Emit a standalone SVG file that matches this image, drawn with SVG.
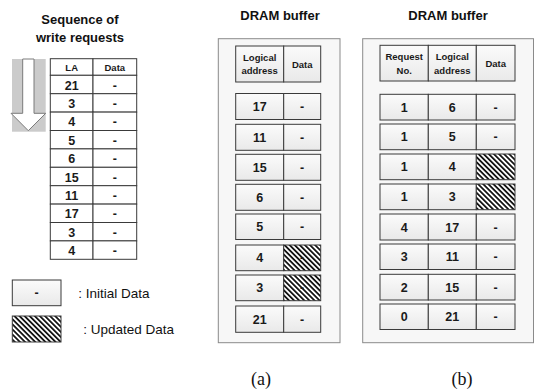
<svg xmlns="http://www.w3.org/2000/svg" width="536" height="391" viewBox="0 0 536 391">
<defs>
<linearGradient id="cellGrad" x1="0" y1="0" x2="0" y2="1">
<stop offset="0" stop-color="#fbfbfb"/>
<stop offset="1" stop-color="#e9e9e9"/>
</linearGradient>
<pattern id="hatch" patternUnits="userSpaceOnUse" width="3.6" height="3.6" patternTransform="rotate(45)">
<rect width="3.6" height="3.6" fill="#ffffff"/>
<rect width="3.6" height="1.8" fill="#151515"/>
</pattern>
<style>
.cell{fill:url(#cellGrad);stroke:#3a3a3a;stroke-width:1}
.plain{fill:#ffffff;stroke:#3a3a3a;stroke-width:1}
.hatch{fill:url(#hatch);stroke:#3a3a3a;stroke-width:1}
.panel{fill:#f7f7f7;stroke:#8a8a8a;stroke-width:1}
.num{font-family:"Liberation Sans",Arial,sans-serif;font-weight:bold;font-size:12.5px;text-anchor:middle;fill:#1a1a1a}
.hdr{font-family:"Liberation Sans",Arial,sans-serif;font-weight:bold;font-size:9.5px;text-anchor:middle;fill:#1a1a1a}
.title{font-family:"Liberation Sans",Arial,sans-serif;font-weight:bold;font-size:13px;text-anchor:middle;fill:#111}
.legend{font-family:"Liberation Sans",Arial,sans-serif;font-size:13.5px;fill:#111}
.cap{font-family:"Liberation Serif","Times New Roman",serif;font-size:18px;text-anchor:middle;fill:#111}
</style>
</defs>
<rect width="536" height="391" fill="#ffffff"/>

<!-- Titles -->
<g id="titles">
<text class="title" x="80" y="23.5">Sequence of</text>
<text class="title" x="80" y="41.5">write requests</text>
<text class="title" x="280" y="19.5">DRAM buffer</text>
<text class="title" x="448" y="19.5">DRAM buffer</text>
</g>

<!-- Sequence arrow -->
<g id="seq-arrow">
<rect x="12" y="59" width="33.7" height="72.7" fill="#cbcbcb"/>
<path d="M22.7,59 L34,59 L34,113.3 L45.7,113.3 L28.3,130.7 L11,113.3 L22.7,113.3 Z" fill="#ffffff" stroke="#7a7a7a" stroke-width="1"/>
</g>

<!-- Left table: sequence of write requests -->
<g id="seq-header">
<rect class="plain" x="50.3" y="58.7" width="42.7" height="16.6"/>
<rect class="plain" x="93" y="58.7" width="43.7" height="16.6"/>
<text class="hdr" x="71.7" y="71">LA</text>
<text class="hdr" x="114.8" y="71">Data</text>
</g>
<g id="seq-rows">
<g id="seq-1"><rect class="plain" x="50.3" y="75.3" width="42.7" height="18.4"/><rect class="plain" x="93" y="75.3" width="43.7" height="18.4"/><text class="num" x="71.7" y="89.5">21</text><text class="num" x="114.8" y="89.5">-</text></g>
<g id="seq-2"><rect class="plain" x="50.3" y="93.7" width="42.7" height="18.4"/><rect class="plain" x="93" y="93.7" width="43.7" height="18.4"/><text class="num" x="71.7" y="107.9">3</text><text class="num" x="114.8" y="107.9">-</text></g>
<g id="seq-3"><rect class="plain" x="50.3" y="112.1" width="42.7" height="18.4"/><rect class="plain" x="93" y="112.1" width="43.7" height="18.4"/><text class="num" x="71.7" y="126.3">4</text><text class="num" x="114.8" y="126.3">-</text></g>
<g id="seq-4"><rect class="plain" x="50.3" y="130.5" width="42.7" height="18.4"/><rect class="plain" x="93" y="130.5" width="43.7" height="18.4"/><text class="num" x="71.7" y="144.7">5</text><text class="num" x="114.8" y="144.7">-</text></g>
<g id="seq-5"><rect class="plain" x="50.3" y="148.9" width="42.7" height="18.4"/><rect class="plain" x="93" y="148.9" width="43.7" height="18.4"/><text class="num" x="71.7" y="163.1">6</text><text class="num" x="114.8" y="163.1">-</text></g>
<g id="seq-6"><rect class="plain" x="50.3" y="167.3" width="42.7" height="18.4"/><rect class="plain" x="93" y="167.3" width="43.7" height="18.4"/><text class="num" x="71.7" y="181.5">15</text><text class="num" x="114.8" y="181.5">-</text></g>
<g id="seq-7"><rect class="plain" x="50.3" y="185.7" width="42.7" height="18.4"/><rect class="plain" x="93" y="185.7" width="43.7" height="18.4"/><text class="num" x="71.7" y="199.9">11</text><text class="num" x="114.8" y="199.9">-</text></g>
<g id="seq-8"><rect class="plain" x="50.3" y="204.1" width="42.7" height="18.4"/><rect class="plain" x="93" y="204.1" width="43.7" height="18.4"/><text class="num" x="71.7" y="218.3">17</text><text class="num" x="114.8" y="218.3">-</text></g>
<g id="seq-9"><rect class="plain" x="50.3" y="222.5" width="42.7" height="18.4"/><rect class="plain" x="93" y="222.5" width="43.7" height="18.4"/><text class="num" x="71.7" y="236.7">3</text><text class="num" x="114.8" y="236.7">-</text></g>
<g id="seq-10"><rect class="plain" x="50.3" y="240.9" width="42.7" height="18.4"/><rect class="plain" x="93" y="240.9" width="43.7" height="18.4"/><text class="num" x="71.7" y="255.1">4</text><text class="num" x="114.8" y="255.1">-</text></g>
</g>

<!-- Legend -->
<g id="legend-initial">
<rect class="cell" x="12.3" y="280" width="48.7" height="25.7"/>
<text class="num" x="36.7" y="297">-</text>
<text class="legend" x="78.3" y="297.5">: Initial Data</text>
</g>
<g id="legend-updated">
<rect class="hatch" x="12.3" y="316" width="48.7" height="26"/>
<text class="legend" x="83.3" y="334">: Updated Data</text>
</g>

<!-- Panel (a) -->
<g id="panel-a">
<rect class="panel" x="218.3" y="38.7" width="121.7" height="304"/>
<g id="a-header">
<rect class="cell" x="235.7" y="46" width="48" height="36"/>
<rect class="cell" x="283.7" y="46" width="37" height="36"/>
<text class="hdr" x="259.7" y="61">Logical</text>
<text class="hdr" x="259.7" y="74">address</text>
<text class="hdr" x="302.2" y="67.5">Data</text>
</g>
<g id="a-row-1"><rect class="cell" x="235.7" y="93.5" width="48" height="26"/><rect class="cell" x="283.7" y="93.5" width="37" height="26"/><text class="num" x="259.7" y="110.8">17</text><text class="num" x="302.2" y="110.8">-</text></g>
<g id="a-row-2"><rect class="cell" x="235.7" y="124.3" width="48" height="26"/><rect class="cell" x="283.7" y="124.3" width="37" height="26"/><text class="num" x="259.7" y="141.6">11</text><text class="num" x="302.2" y="141.6">-</text></g>
<g id="a-row-3"><rect class="cell" x="235.7" y="154.3" width="48" height="26"/><rect class="cell" x="283.7" y="154.3" width="37" height="26"/><text class="num" x="259.7" y="171.6">15</text><text class="num" x="302.2" y="171.6">-</text></g>
<g id="a-row-4"><rect class="cell" x="235.7" y="184.3" width="48" height="26"/><rect class="cell" x="283.7" y="184.3" width="37" height="26"/><text class="num" x="259.7" y="201.6">6</text><text class="num" x="302.2" y="201.6">-</text></g>
<g id="a-row-5"><rect class="cell" x="235.7" y="214" width="48" height="25.5"/><rect class="cell" x="283.7" y="214" width="37" height="25.5"/><text class="num" x="259.7" y="231.2">5</text><text class="num" x="302.2" y="231.2">-</text></g>
<g id="a-row-6"><rect class="cell" x="235.7" y="245" width="48" height="25.7"/><rect class="hatch" x="283.7" y="245" width="37" height="25.7"/><text class="num" x="259.7" y="262.2">4</text><text class="num" x="302.2" y="262.2">-</text></g>
<g id="a-row-7"><rect class="cell" x="235.7" y="275" width="48" height="25.7"/><rect class="hatch" x="283.7" y="275" width="37" height="25.7"/><text class="num" x="259.7" y="292.2">3</text><text class="num" x="302.2" y="292.2">-</text></g>
<g id="a-row-8"><rect class="cell" x="235.7" y="306" width="48" height="26.3"/><rect class="cell" x="283.7" y="306" width="37" height="26.3"/><text class="num" x="259.7" y="323.5">21</text><text class="num" x="302.2" y="323.5">-</text></g>
</g>

<!-- Panel (b) -->
<g id="panel-b">
<rect class="panel" x="362.7" y="38.7" width="170.8" height="304"/>
<g id="b-header">
<rect class="cell" x="380" y="45.3" width="48.3" height="35.7"/>
<rect class="cell" x="428.3" y="45.3" width="48" height="35.7"/>
<rect class="cell" x="476.3" y="45.3" width="38.7" height="35.7"/>
<text class="hdr" x="404.2" y="60">Request</text>
<text class="hdr" x="404.2" y="73.5">No.</text>
<text class="hdr" x="452.3" y="60">Logical</text>
<text class="hdr" x="452.3" y="73.5">address</text>
<text class="hdr" x="495.7" y="67">Data</text>
</g>
<g id="b-row-1"><rect class="cell" x="380" y="94.3" width="48.3" height="25.7"/><rect class="cell" x="428.3" y="94.3" width="48" height="25.7"/><rect class="cell" x="476.3" y="94.3" width="38.7" height="25.7"/><text class="num" x="404.2" y="111.6">1</text><text class="num" x="452.3" y="111.6">6</text><text class="num" x="495.7" y="111.6">-</text></g>
<g id="b-row-2"><rect class="cell" x="380" y="124" width="48.3" height="25.7"/><rect class="cell" x="428.3" y="124" width="48" height="25.7"/><rect class="cell" x="476.3" y="124" width="38.7" height="25.7"/><text class="num" x="404.2" y="141.3">1</text><text class="num" x="452.3" y="141.3">5</text><text class="num" x="495.7" y="141.3">-</text></g>
<g id="b-row-3"><rect class="cell" x="380" y="154" width="48.3" height="25.7"/><rect class="cell" x="428.3" y="154" width="48" height="25.7"/><rect class="hatch" x="476.3" y="154" width="38.7" height="25.7"/><text class="num" x="404.2" y="171.3">1</text><text class="num" x="452.3" y="171.3">4</text></g>
<g id="b-row-4"><rect class="cell" x="380" y="184" width="48.3" height="25.7"/><rect class="cell" x="428.3" y="184" width="48" height="25.7"/><rect class="hatch" x="476.3" y="184" width="38.7" height="25.7"/><text class="num" x="404.2" y="201.3">1</text><text class="num" x="452.3" y="201.3">3</text></g>
<g id="b-row-5"><rect class="cell" x="380" y="214" width="48.3" height="26"/><rect class="cell" x="428.3" y="214" width="48" height="26"/><rect class="cell" x="476.3" y="214" width="38.7" height="26"/><text class="num" x="404.2" y="231.5">4</text><text class="num" x="452.3" y="231.5">17</text><text class="num" x="495.7" y="231.5">-</text></g>
<g id="b-row-6"><rect class="cell" x="380" y="244" width="48.3" height="25.5"/><rect class="cell" x="428.3" y="244" width="48" height="25.5"/><rect class="cell" x="476.3" y="244" width="38.7" height="25.5"/><text class="num" x="404.2" y="261.2">3</text><text class="num" x="452.3" y="261.2">11</text><text class="num" x="495.7" y="261.2">-</text></g>
<g id="b-row-7"><rect class="cell" x="380" y="274.3" width="48.3" height="25.7"/><rect class="cell" x="428.3" y="274.3" width="48" height="25.7"/><rect class="cell" x="476.3" y="274.3" width="38.7" height="25.7"/><text class="num" x="404.2" y="291.6">2</text><text class="num" x="452.3" y="291.6">15</text><text class="num" x="495.7" y="291.6">-</text></g>
<g id="b-row-8"><rect class="cell" x="380" y="304" width="48.3" height="25.5"/><rect class="cell" x="428.3" y="304" width="48" height="25.5"/><rect class="cell" x="476.3" y="304" width="38.7" height="25.5"/><text class="num" x="404.2" y="321.2">0</text><text class="num" x="452.3" y="321.2">21</text><text class="num" x="495.7" y="321.2">-</text></g>
</g>

<g id="connectors"></g>

<!-- Captions -->
<g id="captions">
<text class="cap" x="261" y="385">(a)</text>
<text class="cap" x="462" y="385">(b)</text>
</g>
</svg>
